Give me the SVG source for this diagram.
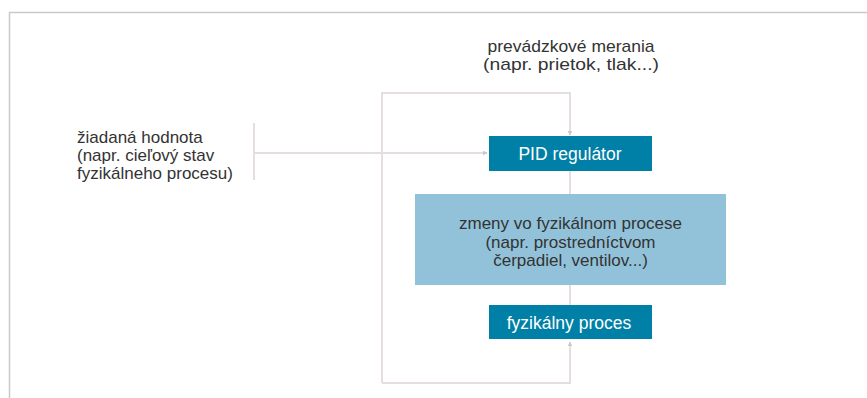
<svg xmlns="http://www.w3.org/2000/svg" width="867" height="398" viewBox="0 0 867 398">
  <style>
    .txt { font-family: "Liberation Sans", Arial, sans-serif; font-size: 17px; fill: #333333; }
    .lbl { font-family: "Liberation Sans", Arial, sans-serif; font-size: 17.5px; fill: #ffffff; }
    .dark { fill: #0080a6; }
    .light { fill: #92c2d9; }
    .wire { fill: none; stroke: #e4dede; stroke-width: 2; }
  </style>
  <defs>
    <marker id="arrow" viewBox="0 0 8 8" refX="7" refY="4" markerWidth="5" markerHeight="5" orient="auto" markerUnits="userSpaceOnUse">
      <path d="M0,0 L8,4 L0,8 Z" fill="#cfc6c6"/>
    </marker>
  </defs>

  <rect width="867" height="398" fill="#ffffff"/>
  <!-- frame -->
  <path d="M9.5,398 V12.5 H867" fill="none" stroke="#c9c9c9" stroke-width="1.5"/>

  <!-- connectors -->
  <g id="connectors">
    <path class="wire" d="M254,123 V180"/>
    <path class="wire" d="M254,153 H487" marker-end="url(#arrow)"/>
    <path class="wire" d="M382,383 V93 H570 V135" marker-end="url(#arrow)"/>
    <path class="wire" d="M570,171 V194"/>
    <path class="wire" d="M570,285 V305"/>
    <path class="wire" d="M382,383 H570 V342" marker-end="url(#arrow)"/>
  </g>

  <g id="measurements">
    <text class="txt" x="571" y="52" text-anchor="middle" textLength="167" lengthAdjust="spacingAndGlyphs">prevádzkové merania</text>
    <text class="txt" x="571" y="70" text-anchor="middle" textLength="176" lengthAdjust="spacingAndGlyphs">(napr. prietok, tlak...)</text>
  </g>

  <g id="setpoint">
    <text class="txt" x="77" y="143">žiadaná hodnota</text>
    <text class="txt" x="77" y="161">(napr. cieľový stav</text>
    <text class="txt" x="77" y="179">fyzikálneho procesu)</text>
  </g>

  <g id="pid">
    <rect class="dark" x="489" y="136" width="163" height="35"/>
    <text class="lbl" x="570" y="160" text-anchor="middle">PID regulátor</text>
  </g>

  <g id="changes">
    <rect class="light" x="415" y="194" width="311" height="91"/>
    <text class="txt" x="570.5" y="229" text-anchor="middle" font-size="17.5">zmeny vo fyzikálnom procese</text>
    <text class="txt" x="570.5" y="248" text-anchor="middle" font-size="17.5">(napr. prostredníctvom</text>
    <text class="txt" x="570.5" y="266" text-anchor="middle" font-size="17.5">čerpadiel, ventilov...)</text>
  </g>

  <g id="process">
    <rect class="dark" x="489" y="305" width="163" height="34"/>
    <text class="lbl" x="569" y="329" text-anchor="middle">fyzikálny proces</text>
  </g>
</svg>
